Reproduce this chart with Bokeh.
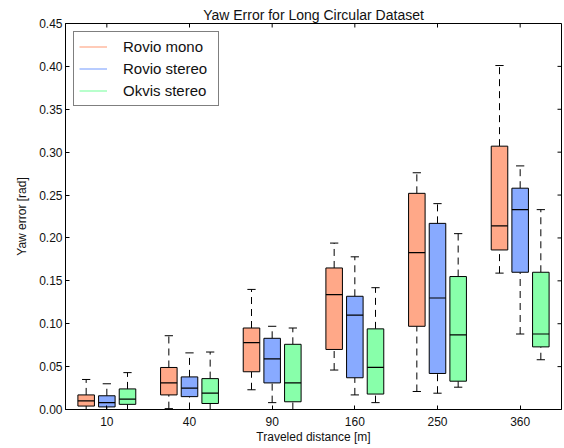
import math
from bokeh.plotting import figure
from bokeh.models import (ColumnDataSource, FixedTicker, Legend, LegendItem,
                          Range1d, PrintfTickFormatter)
from bokeh.embed import file_html
from bokeh.resources import INLINE

# ---- data ----
distances = ["10", "40", "90", "160", "250", "360"]
y_ticks = [0.00, 0.05, 0.10, 0.15, 0.20, 0.25, 0.30, 0.35, 0.40, 0.45]

rovio_mono_lo  = [0.000, 0.001, 0.023, 0.046, 0.021, 0.159]
rovio_mono_q1  = [0.004, 0.017, 0.044, 0.070, 0.097, 0.186]
rovio_mono_med = [0.010, 0.031, 0.078, 0.134, 0.183, 0.214]
rovio_mono_q3  = [0.017, 0.049, 0.095, 0.165, 0.252, 0.307]
rovio_mono_hi  = [0.035, 0.086, 0.140, 0.194, 0.276, 0.401]

rovio_stereo_lo  = [0.000, 0.000, 0.008, 0.017, 0.019, 0.088]
rovio_stereo_q1  = [0.003, 0.015, 0.031, 0.037, 0.042, 0.160]
rovio_stereo_med = [0.008, 0.025, 0.059, 0.110, 0.130, 0.233]
rovio_stereo_q3  = [0.016, 0.038, 0.083, 0.132, 0.217, 0.258]
rovio_stereo_hi  = [0.030, 0.066, 0.097, 0.178, 0.240, 0.284]

okvis_stereo_lo  = [0.000, 0.000, 0.000, 0.008, 0.026, 0.058]
okvis_stereo_q1  = [0.006, 0.007, 0.009, 0.018, 0.033, 0.073]
okvis_stereo_med = [0.012, 0.019, 0.031, 0.049, 0.087, 0.088]
okvis_stereo_q3  = [0.024, 0.036, 0.076, 0.094, 0.155, 0.160]
okvis_stereo_hi  = [0.043, 0.067, 0.095, 0.142, 0.205, 0.233]

series = [
    ("Rovio mono", "#FFA888", rovio_mono_lo, rovio_mono_q1, rovio_mono_med, rovio_mono_q3, rovio_mono_hi),
    ("Rovio stereo", "#88AAFF", rovio_stereo_lo, rovio_stereo_q1, rovio_stereo_med, rovio_stereo_q3, rovio_stereo_hi),
    ("Okvis stereo", "#88FFAA", okvis_stereo_lo, okvis_stereo_q1, okvis_stereo_med, okvis_stereo_q3, okvis_stereo_hi),
]

offsets = [-0.25, 0.0, 0.25]
box_w = 0.2
cap_w = 0.1
FONT = "Liberation Sans"
X0, X1 = 0.5, len(distances) + 0.5
Y0, Y1 = 0.0, 0.45

p = figure(width=562, height=446, output_backend="svg", toolbar_location=None,
           x_range=Range1d(X0, X1), y_range=Range1d(Y0, Y1),
           min_border_left=65, min_border_right=1, min_border_top=23, min_border_bottom=37,
           title="Yaw Error for Long Circular Dataset")
p.title.text_font = FONT
p.title.text_font_size = "14px"
p.title.text_font_style = "normal"
p.title.align = "center"
p.title.standoff = 2
p.title.text_color = "#111111"
p.grid.visible = False
p.outline_line_color = "black"
p.outline_line_width = 1
p.background_fill_color = "white"

legend_items = []
for (name, color, lo, q1, med, q3, hi), off in zip(series, offsets):
    pos = [i + 1 + off for i in range(len(distances))]
    src = ColumnDataSource(dict(
        x=pos, lo=lo, q1=q1, med=med, q3=q3, hi=hi,
        xl=[x - box_w / 2 for x in pos], xr=[x + box_w / 2 for x in pos],
        cl=[x - cap_w / 2 for x in pos], cr=[x + cap_w / 2 for x in pos],
    ))
    # whiskers (dashed)
    p.segment(x0="x", x1="x", y0="q3", y1="hi", source=src, line_color="black",
              line_width=1, line_dash="7 5")
    p.segment(x0="x", x1="x", y0="lo", y1="q1", source=src, line_color="black",
              line_width=1, line_dash="7 5")
    # caps
    p.segment(x0="cl", x1="cr", y0="hi", y1="hi", source=src, line_color="black", line_width=1)
    p.segment(x0="cl", x1="cr", y0="lo", y1="lo", source=src, line_color="black", line_width=1)
    # boxes
    p.vbar(x="x", width=box_w, bottom="q1", top="q3", source=src, fill_color=color,
           line_color="black", line_width=1)
    # medians
    p.segment(x0="xl", x1="xr", y0="med", y1="med", source=src, line_color="black", line_width=1.2)
    # legend handle (no visible data)
    lr = p.line(x=[math.nan], y=[math.nan], line_color=color, line_width=1.2)
    legend_items.append(LegendItem(label=name, renderers=[lr]))

legend = Legend(items=legend_items, location="top_left")
legend.label_text_font = FONT
legend.label_text_font_size = "15px"
legend.label_text_color = "#111111"
legend.border_line_color = "black"
legend.border_line_width = 1
legend.padding = 5
legend.spacing = 3
legend.margin = 8
legend.label_height = 19
legend.glyph_height = 19
legend.glyph_width = 28
legend.label_standoff = 16
legend.label_width = 90
p.add_layout(legend)

# axes styling
xax = p.xaxis[0]
xax.ticker = FixedTicker(ticks=[i + 1 for i in range(len(distances))])
xax.major_label_overrides = {i + 1: d for i, d in enumerate(distances)}
xax.axis_label = "Traveled distance [m]"
yax = p.yaxis[0]
yax.ticker = FixedTicker(ticks=y_ticks)
yax.formatter = PrintfTickFormatter(format="%.2f")
yax.axis_label = "Yaw error [rad]"

for ax in (xax, yax):
    ax.major_tick_in = 4
    ax.major_tick_out = 0
    ax.minor_tick_line_color = None
    ax.axis_line_color = "black"
    ax.major_tick_line_color = "black"
    ax.major_label_text_font = FONT
    ax.major_label_text_font_size = "12px"
    ax.major_label_text_color = "#111111"
    ax.axis_label_text_font = FONT
    ax.axis_label_text_font_size = "12px"
    ax.axis_label_text_font_style = "normal"
    ax.axis_label_text_color = "#111111"
xax.major_label_standoff = 7
xax.axis_label_standoff = 1
yax.major_label_standoff = 3
yax.axis_label_standoff = 7

# inward ticks on the right and top frame edges (matplotlib style)
p.ray(x=[X1] * len(y_ticks), y=y_ticks, length=4, length_units="screen",
      angle=math.pi, line_color="black", line_width=1)
p.ray(x=[i + 1 for i in range(len(distances))], y=[Y1] * len(distances), length=4,
      length_units="screen", angle=-math.pi / 2, line_color="black", line_width=1)

open("out.html", "w").write(file_html(p, INLINE))
